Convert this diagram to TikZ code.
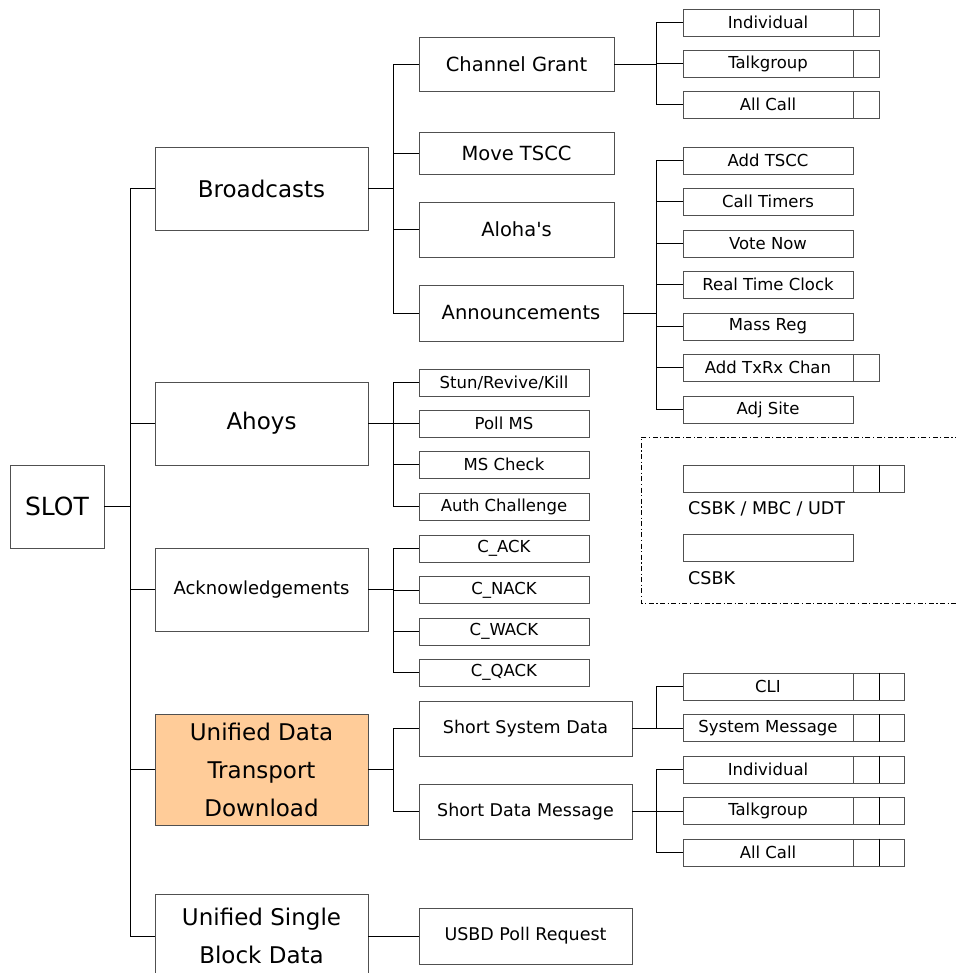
\documentclass[tikz,border=0pt]{standalone}
\usepackage{fontspec}
\setmainfont{DejaVu Sans}
\definecolor{boxc}{HTML}{505050}
\definecolor{udtfill}{HTML}{FFCC99}
\tikzset{
  box/.style={draw=boxc, line width=0.9pt, fill=white, inner sep=0pt, anchor=center, align=center},
  bone/.style={box, minimum width=213pt, font=\fontsize{23}{38}\selectfont},
  btwo/.style={box, font=\fontsize{19.5}{20}\selectfont},
  bmid/.style={box, minimum width=213pt, font=\fontsize{17.5}{20}\selectfont},
  bsmall/.style={box, minimum width=170pt, minimum height=27pt, font=\fontsize{16.5}{18}\selectfont},
  bcell/.style={box, minimum height=27pt},
  conn/.style={draw=black, line width=0.8pt},
  sep/.style={draw=black, line width=1.6pt},
  legtxt/.style={anchor=west, inner sep=0pt, font=\fontsize{17.5}{18}\selectfont},
  legline/.style={draw=black, line width=0.8pt, dash pattern=on 5pt off 2.5pt on 1.2pt off 2.5pt}
}
\begin{document}
\begin{tikzpicture}[x=1pt,y=-1pt]
\useasboundingbox (0,0) rectangle (955,973);
% legend frame
\coordinate (lgA) at (960,437);
\coordinate (lgB) at (641,437);
\coordinate (lgC) at (641,603);
\coordinate (lgD) at (960,603);
\draw[legline] (lgA) -- (lgB) -- (lgC) -- (lgD);

% level 0
\node[box, minimum width=94pt, minimum height=83pt, font=\fontsize{25}{27}\selectfont] (slot) at (57,506.5) {SLOT};
% level 1
\node[bone, minimum height=83pt] (bc) at (261.5,188.5) {Broadcasts};
\node[bone, minimum height=83pt] (ahoy) at (261.5,423.5) {Ahoys};
\node[bone, minimum height=83pt, font=\fontsize{18}{20}\selectfont] (ack) at (261.5,589.5) {Acknowledgements};
\node[bone, minimum height=111pt, fill=udtfill] (udt) at (261.5,769.5) {Unified Data\\Transport\\Download};
\node[bone, minimum height=84pt] (usbd) at (261.5,936) {Unified Single\\Block Data};

% level 2 under broadcasts
\node[btwo, minimum width=195pt, minimum height=54pt] (cg) at (516.5,64) {Channel Grant};
\node[btwo, minimum width=195pt, minimum height=42pt] (mt) at (516.5,153) {Move TSCC};
\node[btwo, minimum width=195pt, minimum height=55pt] (al) at (516.5,229.5) {Aloha\textquotesingle s};
\node[btwo, minimum width=204pt, minimum height=56pt] (ann) at (521,313) {Announcements};
% ahoys
\node[bsmall] (stun) at (504,382.5) {Stun/Revive/Kill};
\node[bsmall] (poll) at (504,423.5) {Poll MS};
\node[bsmall] (msc) at (504,464.5) {MS Check};
\node[bsmall] (auth) at (504,506.5) {Auth Challenge};
% acks
\node[bsmall] (cack) at (504,548.5) {C\_ACK};
\node[bsmall] (cnack) at (504,590) {C\_NACK};
\node[bsmall] (cwack) at (504,631.5) {C\_WACK};
\node[bsmall] (cqack) at (504,672.5) {C\_QACK};
% udt
\node[bmid, minimum height=55pt] (ssd) at (525.5,728.5) {Short System Data};
\node[bmid, minimum height=55pt] (sdm) at (525.5,811.5) {Short Data Message};
% usbd
\node[bmid, minimum height=56pt] (usp) at (525.5,936) {USBD Poll Request};

% level 3 under channel grant
\node[bsmall] (cgi) at (768,22.5) {Individual};
\node[bsmall] (cgt) at (768,63.5) {Talkgroup};
\node[bsmall] (cga) at (768,104.5) {All Call};
\foreach \n/\y in {cgic/22.5, cgtc/63.5, cgac/104.5}
  \node[bcell, minimum width=26pt] (\n) at (866,\y) {};
% level 3 under announcements
\node[bsmall] (atscc) at (768,160.5) {Add TSCC};
\node[bsmall] (ctim) at (768,201.5) {Call Timers};
\node[bsmall] (vote) at (768,243.5) {Vote Now};
\node[bsmall] (rtc) at (768,284.5) {Real Time Clock};
\node[bsmall] (mreg) at (768,326.5) {Mass Reg};
\node[bsmall] (atx) at (768,367.5) {Add TxRx Chan};
\node[bcell, minimum width=26pt] (atxc) at (866,367.5) {};
\node[bsmall] (adj) at (768,409.5) {Adj Site};
% level 3 under ssd / sdm
\node[bsmall] (cli) at (768,686.5) {CLI};
\node[bsmall] (smsg) at (768,728) {System Message};
\node[bsmall] (sdi) at (768,769.5) {Individual};
\node[bsmall] (sdt) at (768,811) {Talkgroup};
\node[bsmall] (sda) at (768,852.5) {All Call};
\foreach \n/\y in {cli/686.5, smsg/728, sdi/769.5, sdt/811, sda/852.5}{
  \node[bcell, minimum width=26pt] (\n c1) at (866,\y) {};
  \node[bcell, minimum width=25pt] (\n c2) at (891.5,\y) {};
  \draw[sep] (\n c1.north east) -- (\n c1.south east);
}

% legend boxes
\node[bsmall] (lg1) at (768,478.5) {};
\node[bcell, minimum width=26pt] (lg1c1) at (866,478.5) {};
\node[bcell, minimum width=25pt] (lg1c2) at (891.5,478.5) {};
\draw[sep] (lg1c1.north east) -- (lg1c1.south east);
\node[legtxt] (lg1t) at (688,509) {CSBK / MBC / UDT};
\node[bsmall] (lg2) at (768,547.5) {};
\node[legtxt] (lg2t) at (688,578) {CSBK};

% connectors level 0 -> 1
\draw[conn] (slot.east) -- ++(27,0);
\draw[conn] (bc.west) -- ++(-24,0) |- (usbd.west);
\foreach \n in {ahoy, ack, udt} \draw[conn] (\n.west) -- ++(-24,0);

% broadcasts
\draw[conn] (bc.east) -- ++(26,0);
\draw[conn] (cg.west) -- ++(-25,0) |- (ann.west);
\foreach \n in {mt, al} \draw[conn] (\n.west) -- ++(-25,0);
% ahoys
\draw[conn] (ahoy.east) -- ++(26,0);
\draw[conn] (stun.west) -- ++(-25,0) |- (auth.west);
\foreach \n in {poll, msc} \draw[conn] (\n.west) -- ++(-25,0);
% acks
\draw[conn] (ack.east) -- ++(26,0);
\draw[conn] (cack.west) -- ++(-25,0) |- (cqack.west);
\foreach \n in {cnack, cwack} \draw[conn] (\n.west) -- ++(-25,0);
% udt
\draw[conn] (udt.east) -- ++(26,0);
\draw[conn] (ssd.west) -- ++(-25,0) |- (sdm.west);
% usbd
\draw[conn] (usbd.east) -- (usp.west);

% level 3
\draw[conn] (cg.east) -- ++(43,0);
\draw[conn] (cgi.west) -- ++(-26,0) |- (cga.west);
\draw[conn] (cgt.west) -- ++(-26,0);
\draw[conn] (ann.east) -- ++(34,0);
\draw[conn] (atscc.west) -- ++(-26,0) |- (adj.west);
\foreach \n in {ctim, vote, rtc, mreg, atx} \draw[conn] (\n.west) -- ++(-26,0);
\draw[conn] (ssd.east) -- ++(25,0);
\draw[conn] (cli.west) -- ++(-26,0) |- (smsg.west);
\draw[conn] (sdm.east) -- ++(25,0);
\draw[conn] (sdi.west) -- ++(-26,0) |- (sda.west);
\draw[conn] (sdt.west) -- ++(-26,0);
\end{tikzpicture}
\end{document}
